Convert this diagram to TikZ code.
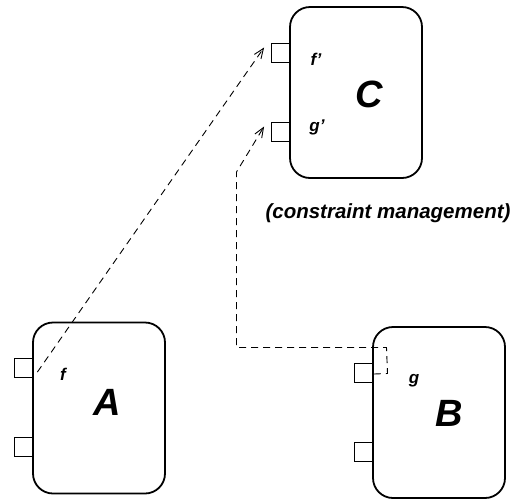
\documentclass[tikz,border=0pt]{standalone}
\usepackage{fontspec}
\setmainfont{Liberation Sans}
\usetikzlibrary{arrows.meta}
\begin{document}
\begin{tikzpicture}[x=1pt,y=-1pt,
  component/.style={draw,line width=1.8pt,rounded corners=20pt,
    minimum width=132pt,minimum height=171pt,inner sep=0pt},
  portbox/.style={draw,line width=0.8pt,minimum size=19pt,inner sep=0pt},
  link/.style={line width=0.9pt,dash pattern=on 7pt off 5pt},
  tip/.style={-{Straight Barb[length=10pt,width=8pt,line width=0.9pt]}},
  biglabel/.style={font=\fontsize{38}{38}\selectfont\bfseries\itshape},
  portlabel/.style={font=\fontsize{17}{17}\selectfont\bfseries\itshape},
  note/.style={font=\fontsize{20.5}{20.5}\selectfont\bfseries\itshape}]
\useasboundingbox[fill=white] (0,0) rectangle (516,499);

% components
\node[component] (C) at (356,92.5) {};
\node[component] (A) at (99,408) {};
\node[component] (B) at (439,412.5) {};

% ports
\node[portbox] (C1) at (281,52.5) {};
\node[portbox] (C2) at (281,131.5) {};
\node[portbox] (A1) at (23.5,367.5) {};
\node[portbox] (A2) at (23.5,446.5) {};
\node[portbox] (B1) at (364,372.5) {};
\node[portbox] (B2) at (364,451.5) {};

% labels
\node[biglabel] at (369,94) {C};
\node[biglabel] at (107,402) {A};
\node[biglabel] at (449,413) {B};
\node[portlabel] at (316,59) {f’};
\node[portlabel] at (317,127) {g’};
\node[portlabel] at (63,374) {f};
\node[portlabel] at (414,381) {g};
\node[note] at (388,213) {(constraint management)};

% constraint links
\coordinate (fstart) at ([xshift=4pt,yshift=-4.5pt]A1.east);
\coordinate (ftip) at ([xshift=-7pt,yshift=5pt]C1.west);
\coordinate (gtip) at ([xshift=-7pt,yshift=5pt]C2.west);
\draw[link,tip] (fstart) -- (ftip);
\draw[link,tip] ([yshift=-1.5pt]B1.east) -- (387.5,373.5) -- (386.5,347.5) -- (236.5,347.5) -- (236.5,172) -- (gtip);
\end{tikzpicture}
\end{document}
